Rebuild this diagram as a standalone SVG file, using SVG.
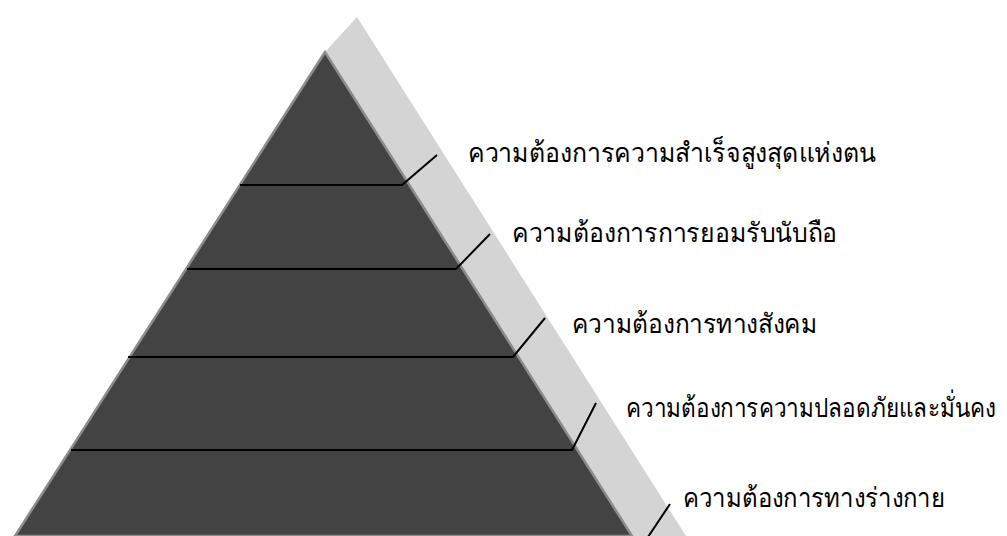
<svg xmlns="http://www.w3.org/2000/svg" width="1007" height="536" viewBox="0 0 1007 536">
<style>
.lbl{font-family:"Liberation Serif","DejaVu Serif",serif;font-size:27px;fill:#000}
.ln{stroke:#000;stroke-width:2;fill:none}
</style>
<rect width="1007" height="536" fill="#fff"/>
<g id="pyramid">
<polygon points="325,52 357,17 686,536 632,536" fill="#d4d4d4"/>
<polygon points="325,52 15,536 632,536" fill="#434343" stroke="#8c8c8c" stroke-width="2.5" stroke-linejoin="miter"/>
</g>
<g id="connectors">
<polyline class="ln" points="240,185 402,185 437,155"/>
<polyline class="ln" points="187,269 456,269 490,234"/>
<polyline class="ln" points="128,357 513,357 545,318"/>
<polyline class="ln" points="71,450 572,450 596,403"/>
<polyline class="ln" points="648,537 670,504"/>
</g>
<g id="level5"><text class="lbl" x="468" y="162" textLength="408" lengthAdjust="spacingAndGlyphs">ความต้องการความสำเร็จสูงสุดแห่งตน</text></g>
<g id="level4"><text class="lbl" x="512" y="242" textLength="325" lengthAdjust="spacingAndGlyphs">ความต้องการการยอมรับนับถือ</text></g>
<g id="level3"><text class="lbl" x="572" y="333" textLength="245" lengthAdjust="spacingAndGlyphs">ความต้องการทางสังคม</text></g>
<g id="level2"><text class="lbl" x="626" y="417" textLength="370" lengthAdjust="spacingAndGlyphs">ความต้องการความปลอดภัยและมั่นคง</text></g>
<g id="level1"><text class="lbl" x="683" y="507" textLength="262" lengthAdjust="spacingAndGlyphs">ความต้องการทางร่างกาย</text></g>
</svg>
